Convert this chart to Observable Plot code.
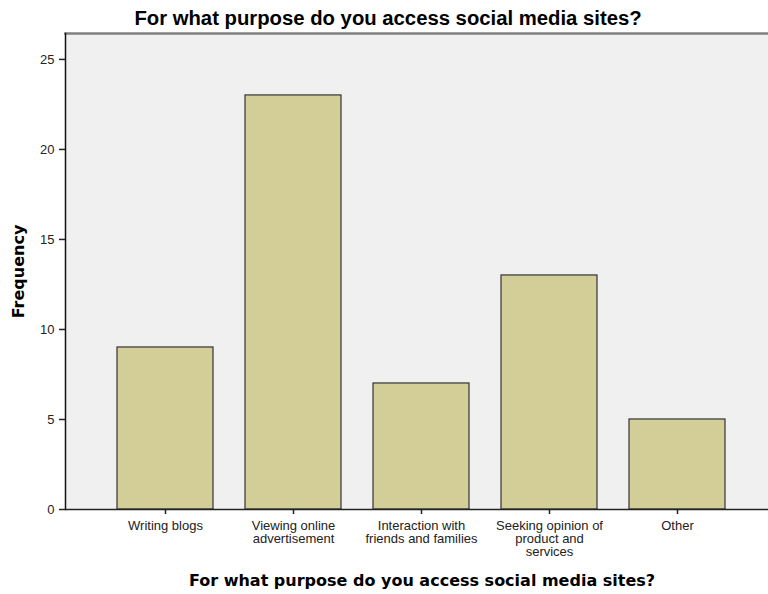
<!DOCTYPE html>
<html>
<head>
<meta charset="utf-8">
<script src="https://cdn.jsdelivr.net/npm/d3@7"></script>
<script src="https://cdn.jsdelivr.net/npm/@observablehq/plot@0.6"></script>
<style>
  html, body { margin: 0; padding: 0; background: #fff; }
</style>
</head>
<body>
<div id="chart"></div>
<script>
const categories = ["Writing blogs", "Viewing online advertisement", "Interaction with friends and families", "Seeking opinion of product and services", "Other"];
const tickLabels = ["Writing blogs", "Viewing online\nadvertisement", "Interaction with\nfriends and families", "Seeking opinion of\nproduct and\nservices", "Other"];
const frequencies = [9, 23, 7, 13, 5];
const yTicks = [0, 5, 10, 15, 20, 25];
const chartTitle = "For what purpose do you access social media sites?";
const xTitle = "For what purpose do you access social media sites?";
const yTitle = "Frequency";

const data = categories.map((c, i) => ({category: c, value: frequencies[i]}));
const labelOf = new Map(categories.map((c, i) => [c, tickLabels[i]]));

const chart = Plot.plot({
  width: 768,
  height: 594,
  marginTop: 33,
  marginBottom: 85,
  marginLeft: 65,
  marginRight: 0,
  style: {background: "#fff", fontFamily: "Liberation Sans, Arial, sans-serif", color: "#222"},
  x: {domain: categories, paddingInner: 0.253, paddingOuter: 0.362, align: 0.55, label: null},
  y: {domain: [0, 26.44], label: null},
  marks: [
    Plot.frame({fill: "#f0f0f0", stroke: null}),
    Plot.frame({anchor: "top", stroke: "#808080", strokeWidth: 2.5}),
    Plot.barY(data, {x: "category", y: "value", fill: "#d3ce97", stroke: "#333", strokeWidth: 1.2}),
    Plot.frame({anchor: "left", stroke: "#111", strokeWidth: 1.5}),
    Plot.ruleY([0], {stroke: "#222", strokeWidth: 1.5}),
    Plot.axisY({ticks: yTicks, tickSize: 6, tickPadding: 5, fontSize: 13, stroke: "#222", strokeWidth: 1.5, label: null}),
    Plot.axisX({tickSize: 5, tickPadding: 6, fontSize: 13, lineHeight: 1, stroke: "#222", strokeWidth: 1.5, tickFormat: d => labelOf.get(d), label: null}),
    Plot.text([chartTitle], {frameAnchor: "top", lineAnchor: "middle", dx: -29, dy: -15, fontSize: 20.3, fontWeight: "bold", fill: "#000", text: d => d}),
    Plot.text([xTitle], {frameAnchor: "bottom", lineAnchor: "middle", dx: 5, dy: 71, fontSize: 16, fontWeight: "bold", fontFamily: "DejaVu Sans", fill: "#000", text: d => d}),
    Plot.text([yTitle], {frameAnchor: "left", textAnchor: "middle", lineAnchor: "middle", dx: -47, rotate: -90, fontSize: 16, fontWeight: "bold", fontFamily: "DejaVu Sans", fill: "#000", text: d => d})
  ]
});
document.getElementById("chart").appendChild(chart);
</script>
</body>
</html>
